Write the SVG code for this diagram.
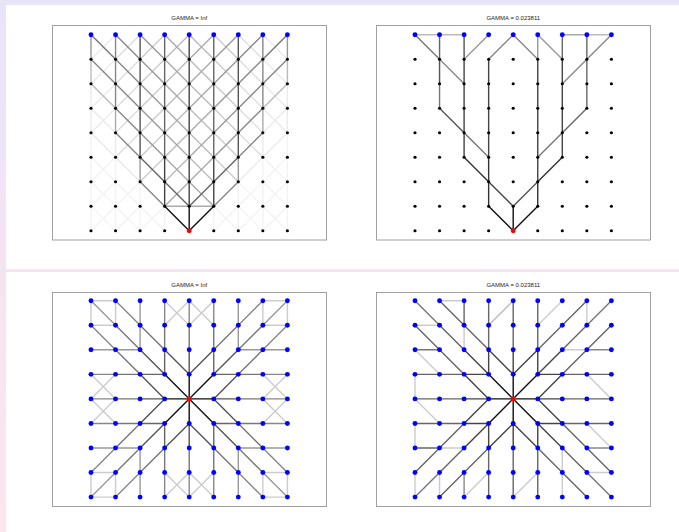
<svg xmlns="http://www.w3.org/2000/svg" xmlns:xlink="http://www.w3.org/1999/xlink" width="679" height="532" viewBox="0 0 679 532">
<style>
.ed path{fill:none;stroke-width:1.4;vector-effect:non-scaling-stroke;stroke-linecap:round;stroke-linejoin:round}
.gf{stroke:#f3f3f3}.gd{stroke:#ebebeb}.gc{stroke:#dddddd}.gb{stroke:#cccccc}.ga{stroke:#bbbbbb}
.g9{stroke:#aaaaaa}.g8{stroke:#999999}.g7{stroke:#888888}.g6{stroke:#777777}.g5{stroke:#666666}
.g4{stroke:#555555}.g3{stroke:#444444}.g2{stroke:#333333}.g1{stroke:#111111}
.frame{fill:none;stroke:#a0a0a0;stroke-width:1}
.title{font-family:"Liberation Sans",Arial,sans-serif;font-size:6px;fill:#222;text-anchor:middle}
</style>
<defs>
<linearGradient id="bg" x1="0" y1="0" x2="0" y2="1">
<stop offset="0" stop-color="#e8e4f8"/><stop offset="0.45" stop-color="#f3e4f3"/><stop offset="1" stop-color="#fbe6ec"/>
</linearGradient>
<circle id="k" r="0.064" fill="#000"/>
<circle id="b" r="0.1" fill="#0000ff"/>
<circle id="r" r="0.1" fill="#ff0000"/>
</defs>
<rect width="679" height="532" fill="url(#bg)"/>
<rect x="6" y="5" width="673" height="264" fill="#fff"/>
<rect x="6" y="272" width="673" height="260" fill="#fff"/>

<rect class="frame" x="52.5" y="25.5" width="274" height="214.5"/>
<rect class="frame" x="376.5" y="25.5" width="274" height="214.5"/>
<rect class="frame" x="52.5" y="292.5" width="274" height="214"/>
<rect class="frame" x="376.5" y="292.5" width="274" height="214"/>
<text class="title" x="189.3" y="20.2">GAMMA = Inf</text>
<text class="title" x="513.3" y="20.2">GAMMA = 0.023811</text>
<text class="title" x="189.3" y="286.5">GAMMA = Inf</text>
<text class="title" x="513.3" y="286.5">GAMMA = 0.023811</text>

<g id="panelA" transform="translate(91 34.7) scale(24.55 24.5)">
<g id="A-edges" class="ed">
<path class="gf" d="M0 4V8M1 5V8M2 6V8M3 7V8M8 4V8M7 5V8M6 6V8M5 7V8M0 5L3 8M0 6L2 8M0 7L1 8M8 5L5 8M8 6L6 8M8 7L7 8M2 6L0 8M1 6L0 7M3 7L2 8M2 7L1 8M1 5L0 6M6 6L8 8M7 6L8 7M5 7L6 8M6 7L7 8M7 5L8 6"/>
<path class="gd" d="M0 2V4M8 2V4M1 4V5M7 4V5M7 3L8 4M1 3L0 4M7 2L8 3M1 2L0 3M7 1L8 2M1 1L0 2M7 0L8 1M1 0L0 1M0 3L1 4M8 3L7 4M0 4L2 6M8 4L6 6"/>
<path class="gc" d="M6 4L7 5M2 4L1 5M6 3L7 4M2 3L1 4M6 2L7 3M2 2L1 3M6 1L7 2M2 1L1 2M6 0L7 1M2 0L1 1"/>
<path class="gb" d="M5 5L6 6M3 5L2 6M5 4L6 5M3 4L2 5M5 3L6 4M3 3L2 4M5 2L6 3M3 2L2 3M5 1L6 2M3 1L2 2M5 0L6 1M3 0L2 1"/>
<path class="ga" d="M0 1V2M8 1V2M4 4L5 5M4 4L3 5M4 3L5 4M4 3L3 4M4 2L5 3M4 2L3 3M4 1L5 2M4 1L3 2M4 0L5 1M4 0L3 1M4 5L5 6M4 5L3 6M0 2L1 3M8 2L7 3"/>
<path class="g9" d="M1 3V4M7 3V4M3 3L4 4M5 3L4 4M3 2L4 3M5 2L4 3M3 1L4 2M5 1L4 2M3 0L4 1M5 0L4 1M3 4L4 5M5 4L4 5M3 5L5 7M5 5L3 7M3 7H5"/>
<path class="g8" d="M0 0V1M8 0V1M2 5V6M6 5V6M2 2L3 3M6 2L5 3M2 1L3 2M6 1L5 2M2 0L3 1M6 0L5 1M2 3L3 4M6 3L5 4M2 4L3 5M6 4L5 5"/>
<path class="g7" d="M1 0V3M7 0V3M1 1L2 2M7 1L6 2M1 0L2 1M7 0L6 1M0 1L2 3M8 1L6 3M1 3L2 4M7 3L6 4M1 4L2 5M7 4L6 5M2 6L3 7M6 6L5 7"/>
<path class="g6" d="M0 0L1 1M8 0L7 1"/>
<path class="g5" d="M3 0V5M5 0V5M2 5L4 7M6 5L4 7"/>
<path class="g4" d="M2 0V5M6 0V5"/>
<path class="g3" d="M4 0V7M3 5V7M5 5V7"/>
<path class="g1" d="M3 7L4 8V7M5 7L4 8"/>
</g>
<g id="A-nodes">
<g id="A-0-0"><use href="#b" x="0" y="0"/></g><g id="A-1-0"><use href="#b" x="1" y="0"/></g><g id="A-2-0"><use href="#b" x="2" y="0"/></g><g id="A-3-0"><use href="#b" x="3" y="0"/></g><g id="A-4-0"><use href="#b" x="4" y="0"/></g><g id="A-5-0"><use href="#b" x="5" y="0"/></g><g id="A-6-0"><use href="#b" x="6" y="0"/></g><g id="A-7-0"><use href="#b" x="7" y="0"/></g><g id="A-8-0"><use href="#b" x="8" y="0"/></g>
<g id="A-0-1"><use href="#k" x="0" y="1"/></g><g id="A-1-1"><use href="#k" x="1" y="1"/></g><g id="A-2-1"><use href="#k" x="2" y="1"/></g><g id="A-3-1"><use href="#k" x="3" y="1"/></g><g id="A-4-1"><use href="#k" x="4" y="1"/></g><g id="A-5-1"><use href="#k" x="5" y="1"/></g><g id="A-6-1"><use href="#k" x="6" y="1"/></g><g id="A-7-1"><use href="#k" x="7" y="1"/></g><g id="A-8-1"><use href="#k" x="8" y="1"/></g>
<g id="A-0-2"><use href="#k" x="0" y="2"/></g><g id="A-1-2"><use href="#k" x="1" y="2"/></g><g id="A-2-2"><use href="#k" x="2" y="2"/></g><g id="A-3-2"><use href="#k" x="3" y="2"/></g><g id="A-4-2"><use href="#k" x="4" y="2"/></g><g id="A-5-2"><use href="#k" x="5" y="2"/></g><g id="A-6-2"><use href="#k" x="6" y="2"/></g><g id="A-7-2"><use href="#k" x="7" y="2"/></g><g id="A-8-2"><use href="#k" x="8" y="2"/></g>
<g id="A-0-3"><use href="#k" x="0" y="3"/></g><g id="A-1-3"><use href="#k" x="1" y="3"/></g><g id="A-2-3"><use href="#k" x="2" y="3"/></g><g id="A-3-3"><use href="#k" x="3" y="3"/></g><g id="A-4-3"><use href="#k" x="4" y="3"/></g><g id="A-5-3"><use href="#k" x="5" y="3"/></g><g id="A-6-3"><use href="#k" x="6" y="3"/></g><g id="A-7-3"><use href="#k" x="7" y="3"/></g><g id="A-8-3"><use href="#k" x="8" y="3"/></g>
<g id="A-0-4"><use href="#k" x="0" y="4"/></g><g id="A-1-4"><use href="#k" x="1" y="4"/></g><g id="A-2-4"><use href="#k" x="2" y="4"/></g><g id="A-3-4"><use href="#k" x="3" y="4"/></g><g id="A-4-4"><use href="#k" x="4" y="4"/></g><g id="A-5-4"><use href="#k" x="5" y="4"/></g><g id="A-6-4"><use href="#k" x="6" y="4"/></g><g id="A-7-4"><use href="#k" x="7" y="4"/></g><g id="A-8-4"><use href="#k" x="8" y="4"/></g>
<g id="A-0-5"><use href="#k" x="0" y="5"/></g><g id="A-1-5"><use href="#k" x="1" y="5"/></g><g id="A-2-5"><use href="#k" x="2" y="5"/></g><g id="A-3-5"><use href="#k" x="3" y="5"/></g><g id="A-4-5"><use href="#k" x="4" y="5"/></g><g id="A-5-5"><use href="#k" x="5" y="5"/></g><g id="A-6-5"><use href="#k" x="6" y="5"/></g><g id="A-7-5"><use href="#k" x="7" y="5"/></g><g id="A-8-5"><use href="#k" x="8" y="5"/></g>
<g id="A-0-6"><use href="#k" x="0" y="6"/></g><g id="A-1-6"><use href="#k" x="1" y="6"/></g><g id="A-2-6"><use href="#k" x="2" y="6"/></g><g id="A-3-6"><use href="#k" x="3" y="6"/></g><g id="A-4-6"><use href="#k" x="4" y="6"/></g><g id="A-5-6"><use href="#k" x="5" y="6"/></g><g id="A-6-6"><use href="#k" x="6" y="6"/></g><g id="A-7-6"><use href="#k" x="7" y="6"/></g><g id="A-8-6"><use href="#k" x="8" y="6"/></g>
<g id="A-0-7"><use href="#k" x="0" y="7"/></g><g id="A-1-7"><use href="#k" x="1" y="7"/></g><g id="A-2-7"><use href="#k" x="2" y="7"/></g><g id="A-3-7"><use href="#k" x="3" y="7"/></g><g id="A-4-7"><use href="#k" x="4" y="7"/></g><g id="A-5-7"><use href="#k" x="5" y="7"/></g><g id="A-6-7"><use href="#k" x="6" y="7"/></g><g id="A-7-7"><use href="#k" x="7" y="7"/></g><g id="A-8-7"><use href="#k" x="8" y="7"/></g>
<g id="A-0-8"><use href="#k" x="0" y="8"/></g><g id="A-1-8"><use href="#k" x="1" y="8"/></g><g id="A-2-8"><use href="#k" x="2" y="8"/></g><g id="A-3-8"><use href="#k" x="3" y="8"/></g><g id="A-4-8"><use href="#r" x="4" y="8"/></g><g id="A-5-8"><use href="#k" x="5" y="8"/></g><g id="A-6-8"><use href="#k" x="6" y="8"/></g><g id="A-7-8"><use href="#k" x="7" y="8"/></g><g id="A-8-8"><use href="#k" x="8" y="8"/></g>
</g>
</g>

<g id="panelB" transform="translate(415 34.7) scale(24.55 24.5)">
<g id="B-edges" class="ed">
<path class="ga" d="M0 0H2M7 0H8"/>
<path class="g9" d="M6 0H7"/>
<path class="g8" d="M2 1L3 0M5 0V1M5 0L6 1"/>
<path class="g7" d="M1 1L2 2M4 0L3 1M4 0L5 1M8 0L6 2"/>
<path class="g6" d="M0 0L1 1M1 2V3M2 4L3 5M6 4L5 5"/>
<path class="g5" d="M1 0V1M6 0V1M7 0V3L6 4"/>
<path class="g4" d="M1 1V2M1 3L2 4M2 0V1M5 6L4 7"/>
<path class="g3" d="M2 1V5M3 1V5M5 1V6M6 1V5M3 6L4 7"/>
<path class="g2" d="M2 5L3 6M6 5L5 6M3 5V7M5 6V7"/>
<path class="g1" d="M3 7L4 8V7M5 7L4 8"/>
</g>
<g id="B-nodes">
<g id="B-0-0"><use href="#b" x="0" y="0"/></g><g id="B-1-0"><use href="#b" x="1" y="0"/></g><g id="B-2-0"><use href="#b" x="2" y="0"/></g><g id="B-3-0"><use href="#b" x="3" y="0"/></g><g id="B-4-0"><use href="#b" x="4" y="0"/></g><g id="B-5-0"><use href="#b" x="5" y="0"/></g><g id="B-6-0"><use href="#b" x="6" y="0"/></g><g id="B-7-0"><use href="#b" x="7" y="0"/></g><g id="B-8-0"><use href="#b" x="8" y="0"/></g>
<g id="B-0-1"><use href="#k" x="0" y="1"/></g><g id="B-1-1"><use href="#k" x="1" y="1"/></g><g id="B-2-1"><use href="#k" x="2" y="1"/></g><g id="B-3-1"><use href="#k" x="3" y="1"/></g><g id="B-4-1"><use href="#k" x="4" y="1"/></g><g id="B-5-1"><use href="#k" x="5" y="1"/></g><g id="B-6-1"><use href="#k" x="6" y="1"/></g><g id="B-7-1"><use href="#k" x="7" y="1"/></g><g id="B-8-1"><use href="#k" x="8" y="1"/></g>
<g id="B-0-2"><use href="#k" x="0" y="2"/></g><g id="B-1-2"><use href="#k" x="1" y="2"/></g><g id="B-2-2"><use href="#k" x="2" y="2"/></g><g id="B-3-2"><use href="#k" x="3" y="2"/></g><g id="B-4-2"><use href="#k" x="4" y="2"/></g><g id="B-5-2"><use href="#k" x="5" y="2"/></g><g id="B-6-2"><use href="#k" x="6" y="2"/></g><g id="B-7-2"><use href="#k" x="7" y="2"/></g><g id="B-8-2"><use href="#k" x="8" y="2"/></g>
<g id="B-0-3"><use href="#k" x="0" y="3"/></g><g id="B-1-3"><use href="#k" x="1" y="3"/></g><g id="B-2-3"><use href="#k" x="2" y="3"/></g><g id="B-3-3"><use href="#k" x="3" y="3"/></g><g id="B-4-3"><use href="#k" x="4" y="3"/></g><g id="B-5-3"><use href="#k" x="5" y="3"/></g><g id="B-6-3"><use href="#k" x="6" y="3"/></g><g id="B-7-3"><use href="#k" x="7" y="3"/></g><g id="B-8-3"><use href="#k" x="8" y="3"/></g>
<g id="B-0-4"><use href="#k" x="0" y="4"/></g><g id="B-1-4"><use href="#k" x="1" y="4"/></g><g id="B-2-4"><use href="#k" x="2" y="4"/></g><g id="B-3-4"><use href="#k" x="3" y="4"/></g><g id="B-4-4"><use href="#k" x="4" y="4"/></g><g id="B-5-4"><use href="#k" x="5" y="4"/></g><g id="B-6-4"><use href="#k" x="6" y="4"/></g><g id="B-7-4"><use href="#k" x="7" y="4"/></g><g id="B-8-4"><use href="#k" x="8" y="4"/></g>
<g id="B-0-5"><use href="#k" x="0" y="5"/></g><g id="B-1-5"><use href="#k" x="1" y="5"/></g><g id="B-2-5"><use href="#k" x="2" y="5"/></g><g id="B-3-5"><use href="#k" x="3" y="5"/></g><g id="B-4-5"><use href="#k" x="4" y="5"/></g><g id="B-5-5"><use href="#k" x="5" y="5"/></g><g id="B-6-5"><use href="#k" x="6" y="5"/></g><g id="B-7-5"><use href="#k" x="7" y="5"/></g><g id="B-8-5"><use href="#k" x="8" y="5"/></g>
<g id="B-0-6"><use href="#k" x="0" y="6"/></g><g id="B-1-6"><use href="#k" x="1" y="6"/></g><g id="B-2-6"><use href="#k" x="2" y="6"/></g><g id="B-3-6"><use href="#k" x="3" y="6"/></g><g id="B-4-6"><use href="#k" x="4" y="6"/></g><g id="B-5-6"><use href="#k" x="5" y="6"/></g><g id="B-6-6"><use href="#k" x="6" y="6"/></g><g id="B-7-6"><use href="#k" x="7" y="6"/></g><g id="B-8-6"><use href="#k" x="8" y="6"/></g>
<g id="B-0-7"><use href="#k" x="0" y="7"/></g><g id="B-1-7"><use href="#k" x="1" y="7"/></g><g id="B-2-7"><use href="#k" x="2" y="7"/></g><g id="B-3-7"><use href="#k" x="3" y="7"/></g><g id="B-4-7"><use href="#k" x="4" y="7"/></g><g id="B-5-7"><use href="#k" x="5" y="7"/></g><g id="B-6-7"><use href="#k" x="6" y="7"/></g><g id="B-7-7"><use href="#k" x="7" y="7"/></g><g id="B-8-7"><use href="#k" x="8" y="7"/></g>
<g id="B-0-8"><use href="#k" x="0" y="8"/></g><g id="B-1-8"><use href="#k" x="1" y="8"/></g><g id="B-2-8"><use href="#k" x="2" y="8"/></g><g id="B-3-8"><use href="#k" x="3" y="8"/></g><g id="B-4-8"><use href="#r" x="4" y="8"/></g><g id="B-5-8"><use href="#k" x="5" y="8"/></g><g id="B-6-8"><use href="#k" x="6" y="8"/></g><g id="B-7-8"><use href="#k" x="7" y="8"/></g><g id="B-8-8"><use href="#k" x="8" y="8"/></g>
</g>
</g>

<g id="panelC" transform="translate(91 300.7) scale(24.55 24.55)">
<g id="C-edges" class="ed">
<path class="gb" d="M0 0H1V1H0ZM7 0H8V1H7ZM0 7H1V8H0ZM7 7H8V8H7ZM3 0L4 1L5 0M3 1L4 0L5 1M3 8L4 7L5 8M3 7L4 8L5 7M0 3L1 4L0 5M1 3L0 4L1 5M8 3L7 4L8 5M7 3L8 4L7 5"/>
<path class="g8" d="M0 0L1 1M8 8L7 7M8 0L7 1M0 8L1 7M2 0V2M6 0V2M2 8V6M6 8V6M0 2H2M8 2H6M0 6H2M8 6H6"/>
<path class="g7" d="M4 0V1M4 8V7M0 4H1M8 4H7M1 0L2 1M7 0L6 1M1 8L2 7M7 8L6 7M0 1L1 2M8 1L7 2M0 7L1 6M8 7L7 6M3 0V1M5 0V1M3 8V7M5 8V7M0 3H1M8 3H7M0 5H1M8 5H7"/>
<path class="g6" d="M1 1L2 2M7 7L6 6M7 1L6 2M1 7L2 6M4 1V2M4 7V6M1 4H2M7 4H6M2 1L3 2M6 1L5 2M2 7L3 6M6 7L5 6M1 2L2 3M7 2L6 3M1 6L2 5M7 6L6 5M3 1V2M5 1V2M3 7V6M5 7V6M1 3H2M7 3H6M1 5H2M7 5H6"/>
<path class="g5" d="M3 2V3M5 2V3M3 6V5M5 6V5M2 3H3M6 3H5M2 5H3M6 5H5"/>
<path class="g4" d="M2 2L3 3M5 5L6 6M6 2L5 3M3 5L2 6M4 2V3M4 5V6M2 4H3M5 4H6M3 2L4 3M5 2L4 3M3 6L4 5M5 6L4 5M2 3L3 4M6 3L5 4M2 5L3 4M6 5L5 4"/>
<path class="g1" d="M3 3L5 5M5 3L3 5M4 3V5M3 4H5"/>
</g>
<g id="C-nodes">
<g id="C-0-0"><use href="#b" x="0" y="0"/></g><g id="C-1-0"><use href="#b" x="1" y="0"/></g><g id="C-2-0"><use href="#b" x="2" y="0"/></g><g id="C-3-0"><use href="#b" x="3" y="0"/></g><g id="C-4-0"><use href="#b" x="4" y="0"/></g><g id="C-5-0"><use href="#b" x="5" y="0"/></g><g id="C-6-0"><use href="#b" x="6" y="0"/></g><g id="C-7-0"><use href="#b" x="7" y="0"/></g><g id="C-8-0"><use href="#b" x="8" y="0"/></g>
<g id="C-0-1"><use href="#b" x="0" y="1"/></g><g id="C-1-1"><use href="#b" x="1" y="1"/></g><g id="C-2-1"><use href="#b" x="2" y="1"/></g><g id="C-3-1"><use href="#b" x="3" y="1"/></g><g id="C-4-1"><use href="#b" x="4" y="1"/></g><g id="C-5-1"><use href="#b" x="5" y="1"/></g><g id="C-6-1"><use href="#b" x="6" y="1"/></g><g id="C-7-1"><use href="#b" x="7" y="1"/></g><g id="C-8-1"><use href="#b" x="8" y="1"/></g>
<g id="C-0-2"><use href="#b" x="0" y="2"/></g><g id="C-1-2"><use href="#b" x="1" y="2"/></g><g id="C-2-2"><use href="#b" x="2" y="2"/></g><g id="C-3-2"><use href="#b" x="3" y="2"/></g><g id="C-4-2"><use href="#b" x="4" y="2"/></g><g id="C-5-2"><use href="#b" x="5" y="2"/></g><g id="C-6-2"><use href="#b" x="6" y="2"/></g><g id="C-7-2"><use href="#b" x="7" y="2"/></g><g id="C-8-2"><use href="#b" x="8" y="2"/></g>
<g id="C-0-3"><use href="#b" x="0" y="3"/></g><g id="C-1-3"><use href="#b" x="1" y="3"/></g><g id="C-2-3"><use href="#b" x="2" y="3"/></g><g id="C-3-3"><use href="#b" x="3" y="3"/></g><g id="C-4-3"><use href="#b" x="4" y="3"/></g><g id="C-5-3"><use href="#b" x="5" y="3"/></g><g id="C-6-3"><use href="#b" x="6" y="3"/></g><g id="C-7-3"><use href="#b" x="7" y="3"/></g><g id="C-8-3"><use href="#b" x="8" y="3"/></g>
<g id="C-0-4"><use href="#b" x="0" y="4"/></g><g id="C-1-4"><use href="#b" x="1" y="4"/></g><g id="C-2-4"><use href="#b" x="2" y="4"/></g><g id="C-3-4"><use href="#b" x="3" y="4"/></g><g id="C-4-4"><use href="#r" x="4" y="4"/></g><g id="C-5-4"><use href="#b" x="5" y="4"/></g><g id="C-6-4"><use href="#b" x="6" y="4"/></g><g id="C-7-4"><use href="#b" x="7" y="4"/></g><g id="C-8-4"><use href="#b" x="8" y="4"/></g>
<g id="C-0-5"><use href="#b" x="0" y="5"/></g><g id="C-1-5"><use href="#b" x="1" y="5"/></g><g id="C-2-5"><use href="#b" x="2" y="5"/></g><g id="C-3-5"><use href="#b" x="3" y="5"/></g><g id="C-4-5"><use href="#b" x="4" y="5"/></g><g id="C-5-5"><use href="#b" x="5" y="5"/></g><g id="C-6-5"><use href="#b" x="6" y="5"/></g><g id="C-7-5"><use href="#b" x="7" y="5"/></g><g id="C-8-5"><use href="#b" x="8" y="5"/></g>
<g id="C-0-6"><use href="#b" x="0" y="6"/></g><g id="C-1-6"><use href="#b" x="1" y="6"/></g><g id="C-2-6"><use href="#b" x="2" y="6"/></g><g id="C-3-6"><use href="#b" x="3" y="6"/></g><g id="C-4-6"><use href="#b" x="4" y="6"/></g><g id="C-5-6"><use href="#b" x="5" y="6"/></g><g id="C-6-6"><use href="#b" x="6" y="6"/></g><g id="C-7-6"><use href="#b" x="7" y="6"/></g><g id="C-8-6"><use href="#b" x="8" y="6"/></g>
<g id="C-0-7"><use href="#b" x="0" y="7"/></g><g id="C-1-7"><use href="#b" x="1" y="7"/></g><g id="C-2-7"><use href="#b" x="2" y="7"/></g><g id="C-3-7"><use href="#b" x="3" y="7"/></g><g id="C-4-7"><use href="#b" x="4" y="7"/></g><g id="C-5-7"><use href="#b" x="5" y="7"/></g><g id="C-6-7"><use href="#b" x="6" y="7"/></g><g id="C-7-7"><use href="#b" x="7" y="7"/></g><g id="C-8-7"><use href="#b" x="8" y="7"/></g>
<g id="C-0-8"><use href="#b" x="0" y="8"/></g><g id="C-1-8"><use href="#b" x="1" y="8"/></g><g id="C-2-8"><use href="#b" x="2" y="8"/></g><g id="C-3-8"><use href="#b" x="3" y="8"/></g><g id="C-4-8"><use href="#b" x="4" y="8"/></g><g id="C-5-8"><use href="#b" x="5" y="8"/></g><g id="C-6-8"><use href="#b" x="6" y="8"/></g><g id="C-7-8"><use href="#b" x="7" y="8"/></g><g id="C-8-8"><use href="#b" x="8" y="8"/></g>
</g>
</g>

<g id="panelD" transform="translate(415 300.7) scale(24.55 24.55)">
<g id="D-edges" class="ed">
<path class="gb" d="M1 0H2M5 1L6 0M7 0V1M0 1H1M2 1V2M0 2L1 3M0 3V4M0 4L1 5M6 2H7M7 3L8 4M1 6H2M0 5V6M7 5L8 6M7 7H8M0 7V8M1 7V8M2 8L3 7M4 8L5 7M6 6V8"/>
<path class="ga" d="M3 1L4 0"/>
<path class="g7" d="M7 2H8M7 6H8M2 7V8"/>
<path class="g6" d="M0 0L1 1M8 8L7 7M8 0L7 1M0 8L1 7M0 2H1"/>
<path class="g5" d="M1 1L2 2M7 7L6 6M7 1L6 2M1 7L2 6M4 0V2M4 8V6M0 4H2M8 4H6M1 0L3 2M7 0L5 2M1 8L3 6M7 8L5 6M0 1L2 3M8 1L6 3M0 7L2 5M8 7L6 5M3 0V2M5 0V2M3 8V6M5 8V6M0 3H2M8 3H6M0 5H2M8 5H6M2 0V1M0 6H1"/>
<path class="g3" d="M2 2L3 3M5 5L6 6M6 2L5 3M3 5L2 6M4 2V3M4 5V6M2 4H3M5 4H6M3 2L4 3M5 2L4 3M3 6L4 5M5 6L4 5M2 3L3 4M6 3L5 4M2 5L3 4M6 5L5 4M3 2V3M5 2V3M3 6V5M5 6V5M2 3H3M6 3H5M2 5H3M6 5H5"/>
<path class="g1" d="M3 3L5 5M5 3L3 5M4 3V5M3 4H5"/>
</g>
<g id="D-nodes">
<g id="D-0-0"><use href="#b" x="0" y="0"/></g><g id="D-1-0"><use href="#b" x="1" y="0"/></g><g id="D-2-0"><use href="#b" x="2" y="0"/></g><g id="D-3-0"><use href="#b" x="3" y="0"/></g><g id="D-4-0"><use href="#b" x="4" y="0"/></g><g id="D-5-0"><use href="#b" x="5" y="0"/></g><g id="D-6-0"><use href="#b" x="6" y="0"/></g><g id="D-7-0"><use href="#b" x="7" y="0"/></g><g id="D-8-0"><use href="#b" x="8" y="0"/></g>
<g id="D-0-1"><use href="#b" x="0" y="1"/></g><g id="D-1-1"><use href="#b" x="1" y="1"/></g><g id="D-2-1"><use href="#b" x="2" y="1"/></g><g id="D-3-1"><use href="#b" x="3" y="1"/></g><g id="D-4-1"><use href="#b" x="4" y="1"/></g><g id="D-5-1"><use href="#b" x="5" y="1"/></g><g id="D-6-1"><use href="#b" x="6" y="1"/></g><g id="D-7-1"><use href="#b" x="7" y="1"/></g><g id="D-8-1"><use href="#b" x="8" y="1"/></g>
<g id="D-0-2"><use href="#b" x="0" y="2"/></g><g id="D-1-2"><use href="#b" x="1" y="2"/></g><g id="D-2-2"><use href="#b" x="2" y="2"/></g><g id="D-3-2"><use href="#b" x="3" y="2"/></g><g id="D-4-2"><use href="#b" x="4" y="2"/></g><g id="D-5-2"><use href="#b" x="5" y="2"/></g><g id="D-6-2"><use href="#b" x="6" y="2"/></g><g id="D-7-2"><use href="#b" x="7" y="2"/></g><g id="D-8-2"><use href="#b" x="8" y="2"/></g>
<g id="D-0-3"><use href="#b" x="0" y="3"/></g><g id="D-1-3"><use href="#b" x="1" y="3"/></g><g id="D-2-3"><use href="#b" x="2" y="3"/></g><g id="D-3-3"><use href="#b" x="3" y="3"/></g><g id="D-4-3"><use href="#b" x="4" y="3"/></g><g id="D-5-3"><use href="#b" x="5" y="3"/></g><g id="D-6-3"><use href="#b" x="6" y="3"/></g><g id="D-7-3"><use href="#b" x="7" y="3"/></g><g id="D-8-3"><use href="#b" x="8" y="3"/></g>
<g id="D-0-4"><use href="#b" x="0" y="4"/></g><g id="D-1-4"><use href="#b" x="1" y="4"/></g><g id="D-2-4"><use href="#b" x="2" y="4"/></g><g id="D-3-4"><use href="#b" x="3" y="4"/></g><g id="D-4-4"><use href="#r" x="4" y="4"/></g><g id="D-5-4"><use href="#b" x="5" y="4"/></g><g id="D-6-4"><use href="#b" x="6" y="4"/></g><g id="D-7-4"><use href="#b" x="7" y="4"/></g><g id="D-8-4"><use href="#b" x="8" y="4"/></g>
<g id="D-0-5"><use href="#b" x="0" y="5"/></g><g id="D-1-5"><use href="#b" x="1" y="5"/></g><g id="D-2-5"><use href="#b" x="2" y="5"/></g><g id="D-3-5"><use href="#b" x="3" y="5"/></g><g id="D-4-5"><use href="#b" x="4" y="5"/></g><g id="D-5-5"><use href="#b" x="5" y="5"/></g><g id="D-6-5"><use href="#b" x="6" y="5"/></g><g id="D-7-5"><use href="#b" x="7" y="5"/></g><g id="D-8-5"><use href="#b" x="8" y="5"/></g>
<g id="D-0-6"><use href="#b" x="0" y="6"/></g><g id="D-1-6"><use href="#b" x="1" y="6"/></g><g id="D-2-6"><use href="#b" x="2" y="6"/></g><g id="D-3-6"><use href="#b" x="3" y="6"/></g><g id="D-4-6"><use href="#b" x="4" y="6"/></g><g id="D-5-6"><use href="#b" x="5" y="6"/></g><g id="D-6-6"><use href="#b" x="6" y="6"/></g><g id="D-7-6"><use href="#b" x="7" y="6"/></g><g id="D-8-6"><use href="#b" x="8" y="6"/></g>
<g id="D-0-7"><use href="#b" x="0" y="7"/></g><g id="D-1-7"><use href="#b" x="1" y="7"/></g><g id="D-2-7"><use href="#b" x="2" y="7"/></g><g id="D-3-7"><use href="#b" x="3" y="7"/></g><g id="D-4-7"><use href="#b" x="4" y="7"/></g><g id="D-5-7"><use href="#b" x="5" y="7"/></g><g id="D-6-7"><use href="#b" x="6" y="7"/></g><g id="D-7-7"><use href="#b" x="7" y="7"/></g><g id="D-8-7"><use href="#b" x="8" y="7"/></g>
<g id="D-0-8"><use href="#b" x="0" y="8"/></g><g id="D-1-8"><use href="#b" x="1" y="8"/></g><g id="D-2-8"><use href="#b" x="2" y="8"/></g><g id="D-3-8"><use href="#b" x="3" y="8"/></g><g id="D-4-8"><use href="#b" x="4" y="8"/></g><g id="D-5-8"><use href="#b" x="5" y="8"/></g><g id="D-6-8"><use href="#b" x="6" y="8"/></g><g id="D-7-8"><use href="#b" x="7" y="8"/></g><g id="D-8-8"><use href="#b" x="8" y="8"/></g>
</g>
</g>
</svg>
